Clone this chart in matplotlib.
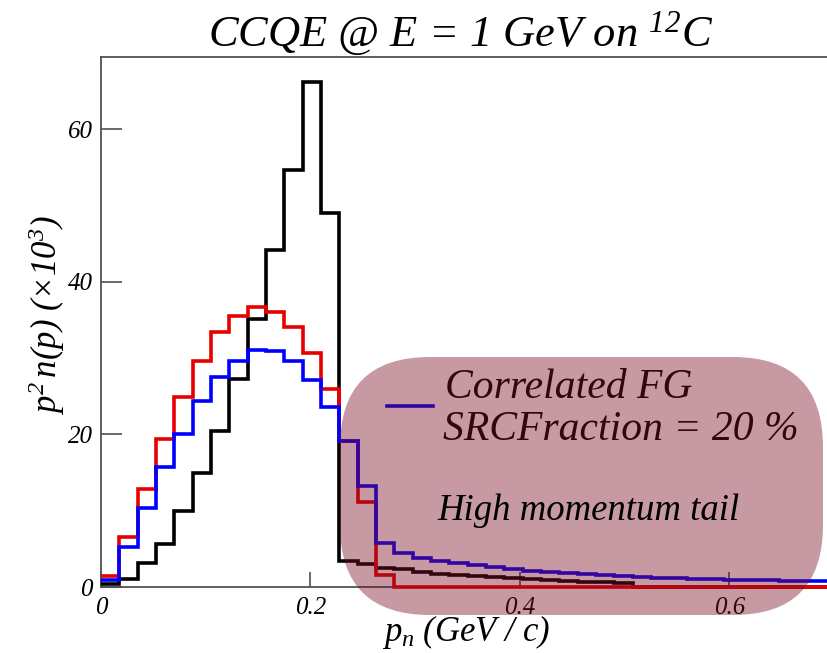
import numpy as np
import matplotlib
matplotlib.use("Agg")
import matplotlib.pyplot as plt
from matplotlib.patches import FancyBboxPatch
from matplotlib.lines import Line2D

plt.rcParams['font.family'] = ['Liberation Serif', 'DejaVu Serif']
plt.rcParams['font.style'] = 'italic'
plt.rcParams['mathtext.fontset'] = 'custom'
plt.rcParams['mathtext.rm'] = 'Liberation Serif:italic'
plt.rcParams['mathtext.it'] = 'Liberation Serif:italic'
plt.rcParams['mathtext.bf'] = 'Liberation Serif:italic:bold'

# 40 bins, 0 .. 0.7 GeV/c
bin_edges = np.linspace(0.0, 0.7, 41)

rfg_black = [0.4, 1.1, 3.2, 5.7, 10.0, 15.0, 20.4, 27.3, 35.2, 44.2,
             54.7, 66.2, 49.0, 3.4, 3.0, 2.5, 2.3, 2.0, 1.75, 1.57,
             1.4, 1.27, 1.14, 1.02, 0.9, 0.8, 0.72, 0.62, 0.48, 0.0,
             0.0, 0.0, 0.0, 0.0, 0.0, 0.0, 0.0, 0.0, 0.0, 0.0]
lfg_red = [1.4, 6.5, 12.8, 19.4, 24.9, 29.7, 33.4, 35.5, 36.7, 36.0,
           34.1, 30.7, 25.9, 19.2, 11.1, 1.6, 0.0, 0.0, 0.0, 0.0,
           0.0, 0.0, 0.0, 0.0, 0.0, 0.0, 0.0, 0.0, 0.0, 0.0,
           0.0, 0.0, 0.0, 0.0, 0.0, 0.0, 0.0, 0.0, 0.0, 0.0]
cfg_blue = [0.9, 5.3, 10.4, 15.7, 20.1, 24.4, 27.6, 29.7, 31.1, 30.9,
            29.6, 27.1, 23.6, 19.2, 13.3, 5.8, 4.4, 3.85, 3.45, 3.14,
            2.84, 2.58, 2.36, 2.14, 1.97, 1.8, 1.66, 1.53, 1.4, 1.3,
            1.22, 1.15, 1.08, 1.02, 0.97, 0.92, 0.87, 0.83, 0.8, 0.77]

x_ticks = [0, 0.2, 0.4, 0.6]
x_ticklabels = ['0', '0.2', '0.4', '0.6']
y_ticks = [0, 20, 40, 60]
y_ticklabels = ['0', '20', '40', '60']

W, H = 827, 653
fig = plt.figure(figsize=(W / 100, H / 100), dpi=100)

ax_left, ax_right_px = 101, 101 + 0.7 * 1047.3
ax_top, ax_bot = 57, 587
ax = fig.add_axes([ax_left / W, (H - ax_bot) / H,
                   (ax_right_px - ax_left) / W, (ax_bot - ax_top) / H])

lw = 2.6
ax.stairs(rfg_black, bin_edges, baseline=None, color='black', lw=lw, zorder=3, clip_on=False)
ax.stairs(lfg_red, bin_edges, baseline=None, color='#e80000', lw=lw, zorder=3.1, clip_on=False)
ax.stairs(cfg_blue, bin_edges, baseline=None, color='#0000ff', lw=lw, zorder=3.2, clip_on=False)

ax.set_xlim(0, 0.7)
ax.set_ylim(0, 69.5)
ax.set_xticks(x_ticks)
ax.set_xticklabels(x_ticklabels)
ax.set_yticks(y_ticks)
ax.set_yticklabels(y_ticklabels)

spine_col = '#505050'
for s in ['left', 'bottom', 'top', 'right']:
    ax.spines[s].set_color(spine_col)
    ax.spines[s].set_linewidth(1.3)
ax.tick_params(axis='y', direction='in', length=15, width=1.2, color=spine_col,
               labelsize=18, pad=6)
ax.tick_params(axis='x', direction='in', length=11, width=1.2, color=spine_col,
               labelsize=18, pad=7)

# y label
ax.set_ylabel(r'$p^2\,n(p)\ (\times 10^3)$', fontsize=25)
ax.yaxis.set_label_coords((47 - ax_left) / (ax_right_px - ax_left),
                          (ax_bot - 315) / (ax_bot - ax_top))
ax.yaxis.label.set_verticalalignment('center')

# title
fig.text(461 / W, (H - 46) / H, r'CCQE @ E = 1 GeV on $^{12}$C',
         fontsize=32, ha='center', va='baseline')

# legend entry (under the overlay)
fig.add_artist(Line2D([3.87, 4.33], [2.473, 2.473], transform=fig.dpi_scale_trans,
                      color='#0000ff', lw=2.6, zorder=4))
fig.text(4.45, 2.55, 'Correlated FG', transform=fig.dpi_scale_trans,
         fontsize=30, ha='left', va='baseline', zorder=4)
fig.text(4.43, 2.13, 'SRCFraction = 20 %', transform=fig.dpi_scale_trans,
         fontsize=30, ha='left', va='baseline', zorder=4)

# translucent highlight
overlay = FancyBboxPatch((3.40, 0.38), 4.83, 2.58,
                         boxstyle='round,pad=0,rounding_size=0.9',
                         transform=fig.dpi_scale_trans,
                         facecolor=(0.47, 0.05, 0.14), edgecolor='none',
                         alpha=0.42, zorder=5)
fig.add_artist(overlay)

fig.text(4.37, 1.33, 'High momentum tail', transform=fig.dpi_scale_trans,
         fontsize=26.5, ha='left', va='baseline', zorder=6)

# x label (on top of overlay)
fig.text(466 / W, (H - 641) / H, r'$p_n\ (GeV\ /\ c)$', fontsize=25,
         ha='center', va='baseline', zorder=6)

fig.savefig('out.png', dpi=100)
